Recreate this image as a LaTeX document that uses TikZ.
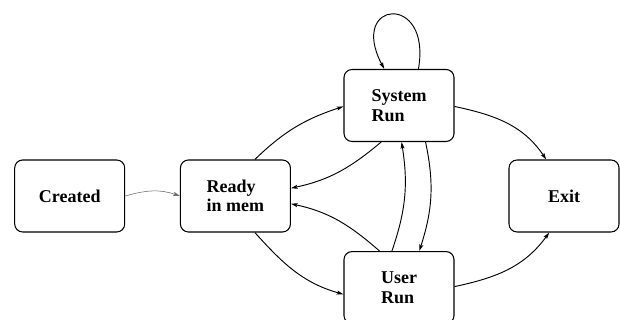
\documentclass[tikz,border=0pt]{standalone}
\usepackage{fontspec}
\setmainfont{Liberation Serif}
\usetikzlibrary{arrows.meta, positioning}
\tikzstyle{arrow} = [line width=0.7pt, -{Stealth[length=5pt, width=3pt, inset=1pt]}]

\begin{document}
\begin{tikzpicture}[
		x=0.75pt, y=0.75pt,
		state/.style={rectangle, draw, line width=0.8pt, rounded corners=6pt, minimum width=82.5pt, minimum height=54pt, align=left, inner sep=0pt},
		font=\fontsize{13.5}{14.5}\selectfont\bfseries
		]
		\useasboundingbox (0,0) rectangle (620,320);
		% States
		\node[state] (created) at (69.7,124) {Created};
		\node[state] (ready) [right=41pt of created] {Ready\\in mem};
		\node[state] (sysrun) at (399,214.5) {System\\Run};
		\node[state] (userrun) [below=81.75pt of sysrun] {User\\Run};
		\node[state] (exit) at (564,124) {Exit};
		% Transitions
		\draw[arrow, line width=0.4pt, black!60] (created.0) to[out=16, in=161] (ready.180);
		\draw[arrow] (ready.62) to[out=44, in=198] (sysrun.181);
		\draw[arrow] (sysrun.244) to[out=220, in=12] (ready.8);
		\draw[arrow] (userrun.118) to[out=139, in=-12] (ready.352);
		\draw[arrow] (ready.298) to[out=-48, in=164] (userrun.187);
		\draw[arrow] (userrun.101) to[out=71, in=-81] (sysrun.274);
		\draw[arrow] (sysrun.306) to[out=-78, in=72] (userrun.61);
		\draw[arrow] (sysrun.359) to[out=-12, in=124] (exit.116);
		\draw[arrow] (userrun.1) to[out=12, in=234] (exit.248);
		\draw[arrow] (sysrun.62) .. controls +(80:78) and +(118:78) .. (sysrun.112);
	\end{tikzpicture}
\end{document}
